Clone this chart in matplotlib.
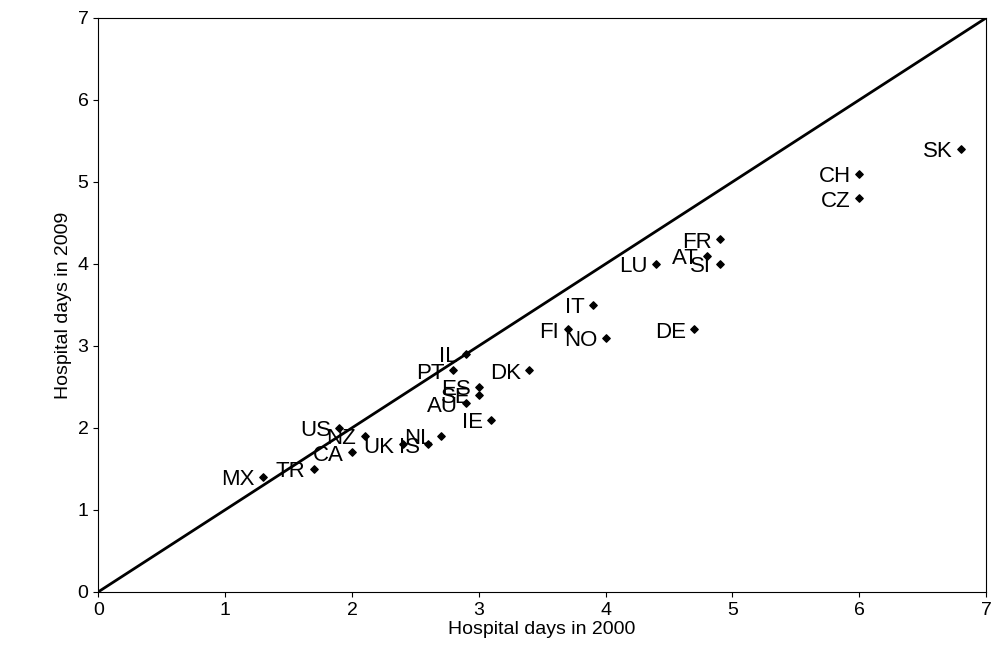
import matplotlib
matplotlib.use("Agg")
import matplotlib.pyplot as plt
plt.rcParams['font.family'] = ['Liberation Sans', 'DejaVu Sans']

countries = ["MX","TR","CA","NZ","US","UK","IS","NL","PT","IL","ES","SE","AU","IE","DK",
             "FI","NO","IT","DE","LU","AT","FR","SI","CZ","CH","SK"]
x2000 = [1.3,1.7,2.0,2.1,1.9,2.4,2.6,2.7,2.8,2.9,3.0,3.0,2.9,3.1,3.4,
         3.7,4.0,3.9,4.7,4.4,4.8,4.9,4.9,6.0,6.0,6.8]
y2009 = [1.4,1.5,1.7,1.9,2.0,1.8,1.8,1.9,2.7,2.9,2.5,2.4,2.3,2.1,2.7,
         3.2,3.1,3.5,3.2,4.0,4.1,4.3,4.0,4.8,5.1,5.4]

fig = plt.figure(figsize=(9.93,6.65), dpi=100)
ax = fig.add_axes([0.099,0.11,0.894,0.863])
ax.plot([0,7],[0,7],color="black",lw=2)
ax.scatter(x2000,y2009,marker="D",s=14,color="black",zorder=3)
for c,x,y in zip(countries,x2000,y2009):
    ax.annotate(c,(x,y),xytext=(-6,-2),textcoords="offset points",ha="right",va="center",fontsize=16)
ax.set_xlim(0,7); ax.set_ylim(0,7)
ax.set_xticks(range(8)); ax.set_yticks(range(8))
ax.tick_params(labelsize=14, direction="out")
ax.set_xlabel("Hospital days in 2000",fontsize=14,labelpad=2)
ax.set_ylabel("Hospital days in 2009",fontsize=14)
fig.savefig("out.png",dpi=100)
